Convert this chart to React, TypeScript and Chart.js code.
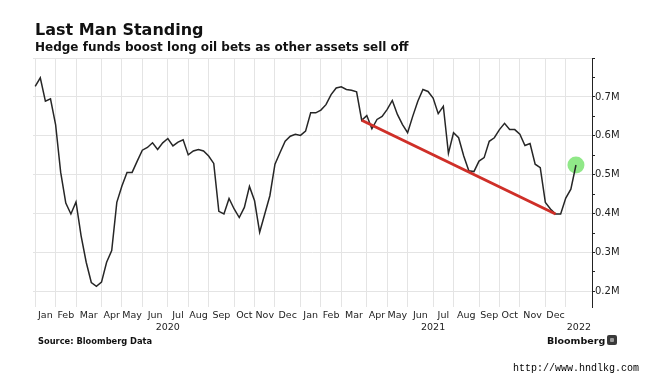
import React, { useEffect, useRef } from 'react';
import { Chart, registerables } from 'chart.js';

Chart.register(...registerables);

// ---------- data ----------
// Weekly hedge-fund net long oil positions (millions of contracts), weekly from first date
const firstWeek = '2020-01-07';
const positions = [
  0.727, 0.749, 0.689, 0.695, 0.629, 0.506, 0.427, 0.399, 0.430, 0.343,
  0.275, 0.223, 0.213, 0.224, 0.275, 0.305, 0.429, 0.471, 0.506, 0.506,
  0.535, 0.563, 0.570, 0.582, 0.565, 0.582, 0.593, 0.574, 0.584, 0.590,
  0.551, 0.561, 0.565, 0.561, 0.548, 0.529, 0.406, 0.399, 0.439, 0.412,
  0.390, 0.416, 0.470, 0.433, 0.352, 0.399, 0.446, 0.527, 0.557, 0.586,
  0.599, 0.604, 0.601, 0.612, 0.659, 0.659, 0.666, 0.680, 0.706, 0.723,
  0.726, 0.719, 0.717, 0.713, 0.640, 0.652, 0.618, 0.642, 0.650, 0.668,
  0.691, 0.655, 0.629, 0.608, 0.650, 0.689, 0.719, 0.714, 0.697, 0.657,
  0.676, 0.555, 0.608, 0.595, 0.548, 0.510, 0.508, 0.535, 0.544, 0.586,
  0.595, 0.616, 0.632, 0.616, 0.616, 0.604, 0.575, 0.580, 0.527, 0.518,
  0.429, 0.412, 0.399, 0.399, 0.440, 0.463, 0.525,
];

// Trend line endpoints (dates on the series)
const trendStartDate = '2021-03-30';
const trendEndDate = '2021-12-21';

// Month gridlines (first weekly observation of each month)
const monthGridDates = [
  '2020-01-07', '2020-02-04', '2020-03-03', '2020-04-07', '2020-05-05', '2020-06-02',
  '2020-07-07', '2020-08-04', '2020-09-01', '2020-10-06', '2020-11-03', '2020-12-01',
  '2021-01-05', '2021-02-02', '2021-03-02', '2021-04-06', '2021-05-04', '2021-06-01',
  '2021-07-06', '2021-08-03', '2021-09-07', '2021-10-05', '2021-11-02', '2021-12-07',
  '2022-01-04',
];
const monthLabels = [
  'Jan', 'Feb', 'Mar', 'Apr', 'May', 'Jun', 'Jul', 'Aug', 'Sep', 'Oct', 'Nov', 'Dec',
  'Jan', 'Feb', 'Mar', 'Apr', 'May', 'Jun', 'Jul', 'Aug', 'Sep', 'Oct', 'Nov', 'Dec',
];
const yearLabels = ['2020', '2021', '2022'];
const yearStartDates = ['2020-01-07', '2021-01-05', '2022-01-04'];

const xMinDate = '2020-01-04';
const xMaxDate = '2022-02-09';

const yMin = 0.16;
const yMax = 0.8;
const yTicks = [0.2, 0.25, 0.3, 0.35, 0.4, 0.45, 0.5, 0.55, 0.6, 0.65, 0.7, 0.75, 0.8];
const yLabelled = [0.2, 0.3, 0.4, 0.5, 0.6, 0.7];

// ---------- helpers ----------
const EPOCH = Date.UTC(2020, 0, 1);
const dayOf = (s: string) => (Date.parse(s + 'T00:00:00Z') - EPOCH) / 86400000;

const FONT = '"DejaVu Sans", Verdana, sans-serif';
const GRID = '#e4e4e4';
const TEXT = '#222';

export default function App() {
  const ref = useRef<HTMLCanvasElement | null>(null);

  useEffect(() => {
    if (!ref.current) return;
    const start = dayOf(firstWeek);
    const days = positions.map((_, i) => start + 7 * i);
    const series = positions.map((v, i) => ({ x: days[i], y: v }));
    const ts = dayOf(trendStartDate);
    const te = dayOf(trendEndDate);
    const trend = [
      { x: ts, y: positions[days.indexOf(ts)] },
      { x: te, y: positions[days.indexOf(te)] },
    ];
    const last = series[series.length - 1];

    const xMin = dayOf(xMinDate);
    const xMax = dayOf(xMaxDate);
    const gridDays = monthGridDates.map(dayOf);
    const monthMid = monthLabels.map((_, i) => (gridDays[i] + gridDays[i + 1]) / 2);
    const yStarts = yearStartDates.map(dayOf);
    const yearMid = yearLabels.map((_, i) => (yStarts[i] + (i + 1 < yStarts.length ? yStarts[i + 1] : xMax)) / 2);

    const isMajor = (v: number) => Math.abs(v * 10 - Math.round(v * 10)) < 1e-6;
    const isLabelled = (v: number) => yLabelled.some((l) => Math.abs(l - v) < 1e-6);

    const chart = new Chart(ref.current, {
      type: 'line',
      data: {
        datasets: [
          {
            data: trend,
            borderColor: '#cf2f28',
            borderWidth: 3,
            pointRadius: 0,
            order: 1,
          },
          {
            data: series,
            borderColor: '#262626',
            borderWidth: 1.5,
            pointRadius: 0,
            tension: 0,
            order: 2,
          },
          {
            data: [last],
            showLine: false,
            pointRadius: 8.5,
            pointBorderWidth: 0,
            pointBackgroundColor: 'rgba(125,228,115,0.85)',
            order: 3,
          },
        ] as any,
      },
      options: {
        animation: false,
        responsive: false,
        events: [],
        layout: { padding: { left: 33, top: 58, right: 0, bottom: 43 } },
        plugins: { legend: { display: false }, tooltip: { enabled: false } },
        scales: {
          x: {
            type: 'linear',
            position: 'bottom',
            weight: 0,
            min: xMin,
            max: xMax,
            afterBuildTicks: (s: any) => {
              s.ticks = gridDays.map((v) => ({ value: v }));
            },
            ticks: { display: false },
            grid: { color: GRID, drawTicks: false, tickLength: 0, lineWidth: 1 },
            border: { display: false },
            afterFit: (s: any) => {
              s.height = 0;
              s.paddingLeft = 0;
              s.paddingRight = 0;
            },
          },
          xMonth: {
            type: 'linear',
            position: 'bottom',
            weight: 1,
            min: xMin,
            max: xMax,
            afterBuildTicks: (s: any) => {
              s.ticks = monthMid.map((v) => ({ value: v }));
            },
            ticks: {
              autoSkip: false,
              maxRotation: 0,
              minRotation: 0,
              padding: 3,
              color: TEXT,
              font: { family: FONT, size: 9.5 },
              callback: (_v: any, i: number) => monthLabels[i],
            },
            grid: { display: false, drawTicks: false, tickLength: 0 },
            border: { display: false },
            afterFit: (s: any) => {
              s.height = 13;
              s.paddingLeft = 0;
              s.paddingRight = 0;
            },
          },
          xYear: {
            type: 'linear',
            position: 'bottom',
            weight: 2,
            min: xMin,
            max: xMax,
            afterBuildTicks: (s: any) => {
              s.ticks = yearMid.map((v) => ({ value: v }));
            },
            ticks: {
              autoSkip: false,
              maxRotation: 0,
              minRotation: 0,
              padding: 2,
              color: TEXT,
              font: { family: FONT, size: 9.5 },
              callback: (_v: any, i: number) => yearLabels[i],
            },
            grid: { display: false, drawTicks: false, tickLength: 0 },
            border: { display: false },
            afterFit: (s: any) => {
              s.height = 12;
              s.paddingLeft = 0;
              s.paddingRight = 0;
            },
          },
          y: {
            type: 'linear',
            position: 'right',
            min: yMin,
            max: yMax,
            afterBuildTicks: (s: any) => {
              s.ticks = yTicks.map((v) => ({ value: v }));
            },
            ticks: {
              padding: 0,
              color: TEXT,
              font: { family: FONT, size: 10 },
              callback: (v: any) => (isLabelled(Number(v)) ? `${Number(v).toFixed(1)}M` : ''),
            },
            grid: {
              color: (ctx: any) => (ctx.tick && isMajor(ctx.tick.value) ? GRID : 'rgba(0,0,0,0)'),
              tickColor: '#222',
              tickLength: 3,
              drawTicks: true,
              lineWidth: 1,
            },
            border: { display: true, color: '#222', width: 1 },
            afterFit: (s: any) => {
              s.width = 59;
              s.paddingTop = 0;
              s.paddingBottom = 0;
            },
          },
        },
      } as any,
    });
    return () => chart.destroy();
  }, []);

  const abs = (extra: React.CSSProperties): React.CSSProperties => ({
    position: 'absolute',
    whiteSpace: 'nowrap',
    lineHeight: 1,
    margin: 0,
    ...extra,
  });

  return (
    <div style={{ position: 'absolute', left: 0, top: 0, width: 651, height: 375, background: '#fff', overflow: 'hidden' }}>
      <canvas ref={ref} width={651} height={375} style={{ position: 'absolute', left: 0, top: 0, width: 651, height: 375 }} />
      <div style={abs({ left: 35, top: 21.5, fontFamily: FONT, fontWeight: 'bold', fontSize: 16, color: '#111' })}>
        Last Man Standing
      </div>
      <div style={abs({ left: 35, top: 40.5, fontFamily: FONT, fontWeight: 'bold', fontSize: 12, color: '#111' })}>
        Hedge funds boost long oil bets as other assets sell off
      </div>
      <div style={abs({ left: 38, top: 336.7, fontFamily: FONT, fontWeight: 'bold', fontSize: 8.3, color: '#111' })}>
        Source: Bloomberg Data
      </div>
      <div style={abs({ left: 547, top: 335.5, fontFamily: FONT, fontWeight: 'bold', fontSize: 9.5, color: '#111' })}>
        Bloomberg
      </div>
      <div style={abs({ left: 607, top: 335, width: 10, height: 9.5, background: '#3a3a3a', borderRadius: 2 })}>
        <div style={{ position: 'absolute', left: 3, top: 2.5, width: 4, height: 4, background: '#9a9a9a', borderRadius: 1 }} />
      </div>
      <div style={abs({ left: 513, top: 364.3, fontFamily: '"Liberation Mono", monospace', fontSize: 10, color: '#000' })}>
        http://www.hndlkg.com
      </div>
    </div>
  );
}
